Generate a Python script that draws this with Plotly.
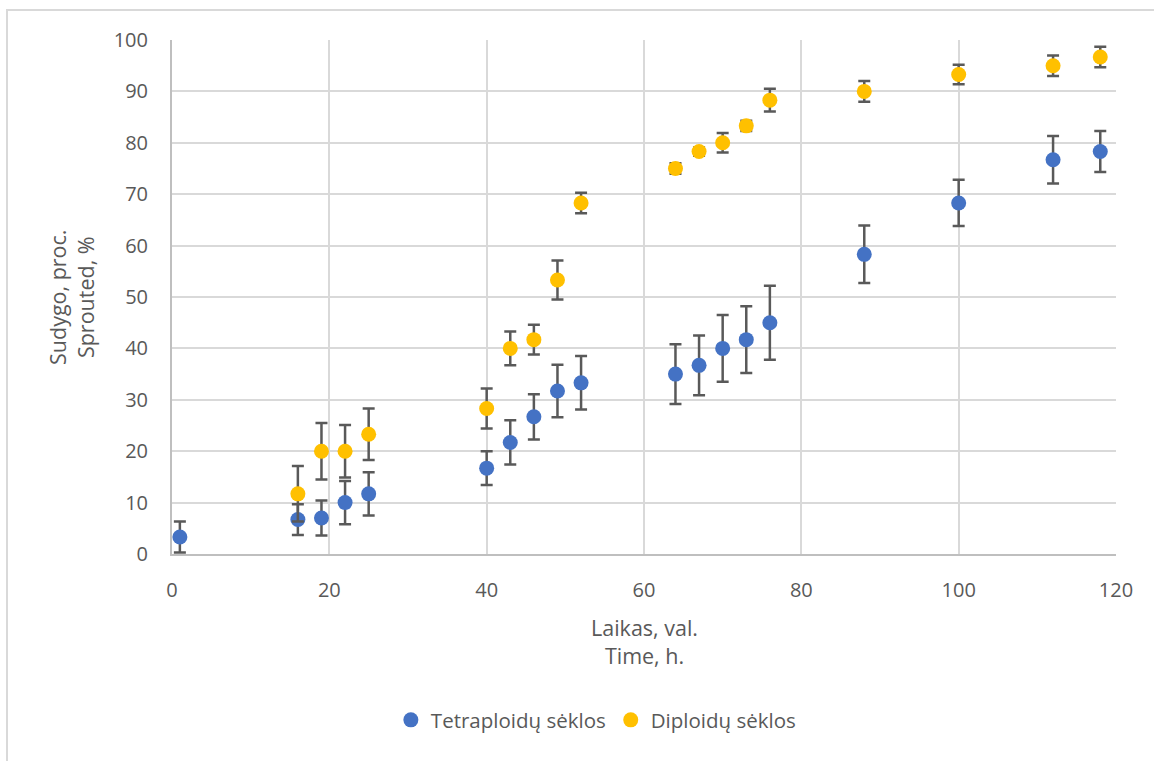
import plotly.graph_objects as go

time_tetra = [1, 16, 19, 22, 25, 40, 43, 46, 49, 52, 64, 67, 70, 73, 76, 88, 100, 112, 118]
val_tetra = [3.3, 6.7, 7.0, 10.0, 11.7, 16.7, 21.7, 26.7, 31.7, 33.3, 35.0, 36.7, 40.0, 41.7, 45.0, 58.3, 68.3, 76.7, 78.3]
err_tetra = [3.0, 3.0, 3.4, 4.2, 4.2, 3.3, 4.3, 4.4, 5.1, 5.2, 5.8, 5.8, 6.5, 6.5, 7.2, 5.6, 4.5, 4.6, 4.0]

time_diplo = [16, 19, 22, 25, 40, 43, 46, 49, 52, 64, 67, 70, 73, 76, 88, 100, 112, 118]
val_diplo = [11.7, 20.0, 20.0, 23.3, 28.3, 40.0, 41.7, 53.3, 68.3, 75.0, 78.3, 80.0, 83.3, 88.3, 90.0, 93.3, 95.0, 96.7]
err_diplo = [5.4, 5.5, 5.1, 5.0, 3.9, 3.3, 2.9, 3.8, 2.0, 1.0, 0.8, 1.9, 1.0, 2.2, 2.0, 1.9, 2.0, 2.0]

x_ticks = [0, 20, 40, 60, 80, 100, 120]
y_ticks = [0, 10, 20, 30, 40, 50, 60, 70, 80, 90, 100]

FONT = "Open Sans"
TXT = "#595959"
ERR = "#595959"

fig = go.Figure()
fig.add_trace(go.Scatter(
    x=time_tetra, y=val_tetra, mode="markers", name="Tetraploidų sėklos",
    marker=dict(color="#4472C4", size=15),
    error_y=dict(type="data", array=err_tetra, color=ERR, thickness=2.5, width=6),
))
fig.add_trace(go.Scatter(
    x=time_diplo, y=val_diplo, mode="markers", name="Diploidų sėklos",
    marker=dict(color="#FFC000", size=15),
    error_y=dict(type="data", array=err_diplo, color=ERR, thickness=2.5, width=6),
))

fig.update_layout(
    width=1154, height=761,
    margin=dict(l=172, r=38, t=40, b=207),
    paper_bgcolor="white", plot_bgcolor="white",
    font=dict(family=FONT, size=20, color=TXT),
    showlegend=True,
    legend=dict(orientation="h", x=0.449, xanchor="center", y=-0.323, yanchor="middle",
                font=dict(family=FONT, size=20.5, color=TXT), itemsizing="trace",
                itemwidth=30),
    xaxis=dict(range=[0, 120], tickvals=x_ticks, showgrid=True, gridcolor="#D9D9D9", gridwidth=2,
               showline=True, linecolor="#BFBFBF", linewidth=2, zeroline=False,
               ticks="", ticklabelstandoff=17, tickfont=dict(size=20, color=TXT)),
    yaxis=dict(range=[0, 100], tickvals=y_ticks, showgrid=True, gridcolor="#D9D9D9", gridwidth=2,
               showline=True, linecolor="#BFBFBF", linewidth=2, zeroline=False,
               ticks="", ticklabelstandoff=18, tickfont=dict(size=20, color=TXT)),
    shapes=[dict(type="rect", xref="paper", yref="paper", x0=-0.1748, y0=-0.42, x1=1.05, y1=1.0584,
                 line=dict(color="#D9D9D9", width=2), fillcolor="rgba(0,0,0,0)", layer="below")],
    annotations=[
        dict(text="Sudygo, proc.<br>Sprouted, %", xref="paper", yref="paper", x=-0.107, y=0.5,
             xanchor="center", yanchor="middle", textangle=-90, showarrow=False,
             font=dict(family=FONT, size=21.5, color=TXT)),
        dict(text="Laikas, val.<br>Time, h.", xref="paper", yref="paper", x=0.5, y=-0.171,
             xanchor="center", yanchor="middle", showarrow=False,
             font=dict(family=FONT, size=21.5, color=TXT)),
    ],
)

fig.write_html("out.html")
